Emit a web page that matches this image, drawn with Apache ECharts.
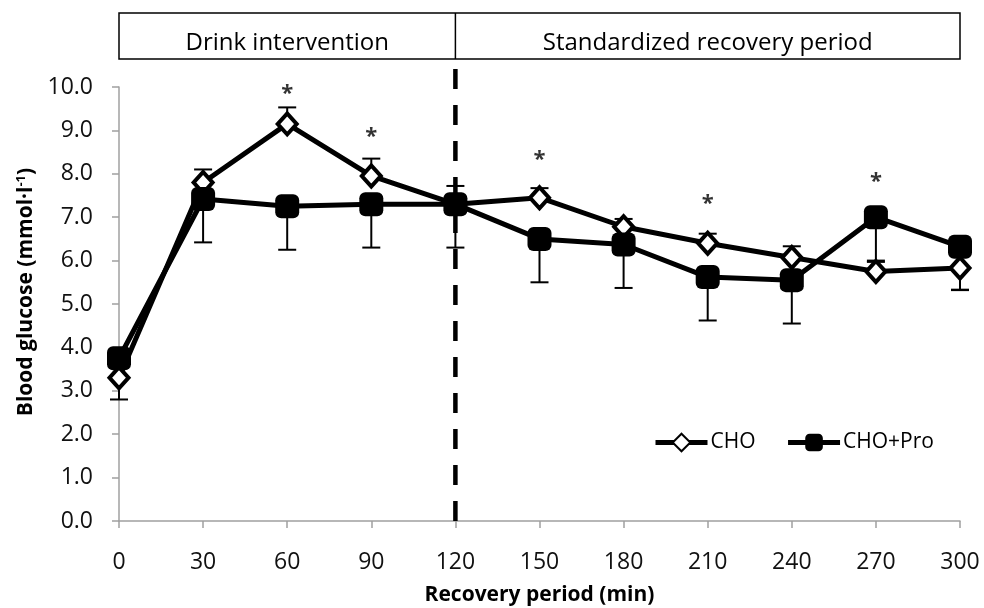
<!DOCTYPE html>
<html>
<head>
<meta charset="utf-8">
<script src="https://cdn.jsdelivr.net/npm/echarts@6/dist/echarts.min.js"></script>
<style>
html,body{margin:0;padding:0;background:#fff;}
#chart{width:984px;height:608px;}
</style>
</head>
<body>
<div id="chart"></div>
<script>
// ---- data ----
const timePoints = [0, 30, 60, 90, 120, 150, 180, 210, 240, 270, 300];
const choMean = [3.3, 7.8, 9.15, 7.95, 7.3, 7.45, 6.78, 6.4, 6.07, 5.75, 5.83];
const choErr = [0.5, 0.3, 0.38, 0.4, 0.42, 0.22, 0.18, 0.22, 0.26, 0.22, 0.5];
const choErrDir = [-1, 1, 1, 1, 1, 1, 1, 1, 1, 1, -1];
const proMean = [3.75, 7.42, 7.25, 7.3, 7.3, 6.5, 6.37, 5.62, 5.55, 7.0, 6.32];
const proErr = [0, 1.0, 1.0, 1.0, 1.0, 1.0, 1.0, 1.0, 1.0, 1.0, 1.0];
const proErrDir = [-1, -1, -1, -1, -1, -1, -1, -1, -1, -1, -1];
const starX = [60, 90, 150, 210, 270];
const starY = [9.93, 8.94, 8.41, 7.41, 7.91];
const xTicks = [0, 30, 60, 90, 120, 150, 180, 210, 240, 270, 300];
const yTicks = [0, 1, 2, 3, 4, 5, 6, 7, 8, 9, 10];
const phaseBounds = [0, 120, 300];
const phaseNames = ['Drink intervention', 'Standardized recovery period'];
const dividerX = 120;

const FONT = 'Open Sans';
const chart = echarts.init(document.getElementById('chart'));

function errData(means, errs, dirs) {
  return timePoints.map((t, i) => [t, means[i], errs[i], dirs[i]]);
}
function renderErr(params, api) {
  const x = api.value(0), m = api.value(1), e = api.value(2), d = api.value(3);
  if (!e) return null;
  const p1 = api.coord([x, m]);
  const p2 = api.coord([x, m + d * e]);
  const cap = 9;
  const st = {stroke: '#000', lineWidth: 2};
  return {
    type: 'group',
    children: [
      {type: 'line', shape: {x1: p1[0], y1: p1[1], x2: p2[0], y2: p2[1]}, style: st},
      {type: 'line', shape: {x1: p2[0] - cap, y1: p2[1], x2: p2[0] + cap, y2: p2[1]}, style: st}
    ]
  };
}

const option = {
  animation: false,
  backgroundColor: '#fff',
  textStyle: {fontFamily: FONT},
  grid: {left: 119, right: 24, top: 87, bottom: 87, containLabel: false, outerBoundsMode: 'none'},
  xAxis: {
    type: 'value', min: 0, max: 300, interval: 30,
    name: 'Recovery period (min)', nameLocation: 'middle', nameGap: 64,
    nameTextStyle: {fontFamily: FONT, fontWeight: 'bold', fontSize: 21, color: '#000'},
    axisLine: {lineStyle: {color: '#a0a0a0', width: 1.5}},
    axisTick: {show: true, length: 7, lineStyle: {color: '#a0a0a0', width: 1.5}},
    axisLabel: {fontFamily: FONT, fontSize: 23, color: '#111', margin: 30,
      customValues: xTicks},
    splitLine: {show: false}
  },
  yAxis: {
    type: 'value', min: 0, max: 10, interval: 1,
    name: 'Blood glucose (mmol·l{sup|-1})', nameLocation: 'middle', nameGap: 78,
    nameRotate: 90,
    nameTextStyle: {fontFamily: FONT, fontWeight: 'bold', fontSize: 21, color: '#000',
      padding: [0, 0, 0, 24],
      rich: {sup: {fontSize: 13, fontWeight: 'bold', fontFamily: FONT, verticalAlign: 'top', padding: [0, 0, 10, 0]}}},
    axisLine: {show: true, lineStyle: {color: '#a0a0a0', width: 1.5}},
    axisTick: {show: true, inside: false, length: 7, lineStyle: {color: '#a0a0a0', width: 1.5}},
    axisLabel: {fontFamily: FONT, fontSize: 23, color: '#111', margin: 26,
      formatter: v => v.toFixed(1)},
    splitLine: {show: false}
  },
  legend: {
    data: ['CHO', 'CHO+Pro'],
    left: 648, top: 427,
    itemWidth: 52, itemHeight: 22, itemGap: 30,
    lineStyle: {width: 5},
    textStyle: {fontFamily: FONT, fontSize: 21, color: '#000', padding: [0, 0, 0, -2]}
  },
  series: [
    {
      name: 'divider', type: 'line', silent: true, clip: false, z: 1,
      data: [[dividerX, 0], [dividerX, 10.45]],
      symbol: 'none',
      lineStyle: {color: '#000', width: 4.5, type: [20, 16]}
    },
    {
      name: 'CHO err', type: 'custom', z: 2, clip: false,
      data: errData(choMean, choErr, choErrDir), renderItem: renderErr
    },
    {
      name: 'CHO+Pro err', type: 'custom', z: 2, clip: false,
      data: errData(proMean, proErr, proErrDir), renderItem: renderErr
    },
    {
      name: 'CHO', type: 'line', z: 3,
      data: timePoints.map((t, i) => [t, choMean[i]]),
      symbol: 'diamond', symbolSize: [19, 21],
      itemStyle: {color: '#fff', borderColor: '#000', borderWidth: 4},
      lineStyle: {color: '#000', width: 5}
    },
    {
      name: 'CHO+Pro', type: 'line', z: 4,
      data: timePoints.map((t, i) => [t, proMean[i]]),
      symbol: 'roundRect', symbolSize: 24,
      itemStyle: {color: '#000', borderColor: '#000', borderWidth: 0},
      lineStyle: {color: '#000', width: 5}
    },
    {
      name: 'stars', type: 'scatter', z: 5, silent: true,
      data: starX.map((x, i) => [x, starY[i]]),
      symbolSize: 0,
      label: {show: true, position: 'inside', formatter: '*', fontFamily: FONT,
        fontSize: 22, fontWeight: 'bold', color: '#000', offset: [0, 4]}
    }
  ]
};
chart.setOption(option);

// header boxes aligned to x-axis scale
const yTop = 13, yBot = 59;
const px = phaseBounds.map(v => chart.convertToPixel({xAxisIndex: 0}, v));
const graphics = [
  {type: 'rect', shape: {x: px[0], y: yTop, width: px[2] - px[0], height: yBot - yTop},
    style: {fill: 'none', stroke: '#000', lineWidth: 1.5}},
  {type: 'line', shape: {x1: px[1], y1: yTop, x2: px[1], y2: yBot},
    style: {stroke: '#000', lineWidth: 1.5}}
];
phaseNames.forEach((n, i) => {
  graphics.push({type: 'text', x: (px[i] + px[i + 1]) / 2, y: 43,
    style: {text: n, fontFamily: FONT, fontSize: 24, fill: '#000', align: 'center', verticalAlign: 'middle'}});
});
chart.setOption({graphic: graphics});
</script>
</body>
</html>
